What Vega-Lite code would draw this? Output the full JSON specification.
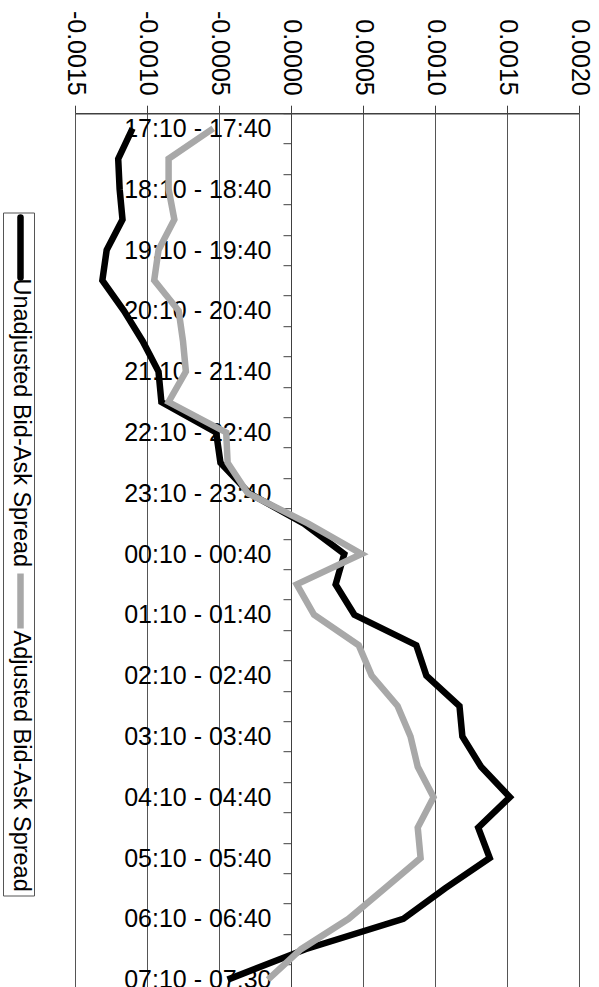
{
  "$schema": "https://vega.github.io/schema/vega-lite/v6.json",
  "padding": {"left": 2, "top": 10, "right": 8, "bottom": 0},
  "background": "white",
  "bounds": "flush",
  "center": true,
  "spacing": 41,
  "config": {"font": "Liberation Sans", "view": {"stroke": null}},
  "datasets": {
    "spread": [
      {"idx": 0, "period": "17:10 - 17:40", "series": "Unadjusted Bid-Ask Spread", "value": -0.00110},
      {"idx": 1, "period": "17:40 - 18:10", "series": "Unadjusted Bid-Ask Spread", "value": -0.00120},
      {"idx": 2, "period": "18:10 - 18:40", "series": "Unadjusted Bid-Ask Spread", "value": -0.00119},
      {"idx": 3, "period": "18:40 - 19:10", "series": "Unadjusted Bid-Ask Spread", "value": -0.00117},
      {"idx": 4, "period": "19:10 - 19:40", "series": "Unadjusted Bid-Ask Spread", "value": -0.00128},
      {"idx": 5, "period": "19:40 - 20:10", "series": "Unadjusted Bid-Ask Spread", "value": -0.00131},
      {"idx": 6, "period": "20:10 - 20:40", "series": "Unadjusted Bid-Ask Spread", "value": -0.00116},
      {"idx": 7, "period": "20:40 - 21:10", "series": "Unadjusted Bid-Ask Spread", "value": -0.00103},
      {"idx": 8, "period": "21:10 - 21:40", "series": "Unadjusted Bid-Ask Spread", "value": -0.00092},
      {"idx": 9, "period": "21:40 - 22:10", "series": "Unadjusted Bid-Ask Spread", "value": -0.00090},
      {"idx": 10, "period": "22:10 - 22:40", "series": "Unadjusted Bid-Ask Spread", "value": -0.00052},
      {"idx": 11, "period": "22:40 - 23:10", "series": "Unadjusted Bid-Ask Spread", "value": -0.00049},
      {"idx": 12, "period": "23:10 - 23:40", "series": "Unadjusted Bid-Ask Spread", "value": -0.00029},
      {"idx": 13, "period": "23:40 - 00:10", "series": "Unadjusted Bid-Ask Spread", "value": 0.00009},
      {"idx": 14, "period": "00:10 - 00:40", "series": "Unadjusted Bid-Ask Spread", "value": 0.00037},
      {"idx": 15, "period": "00:40 - 01:10", "series": "Unadjusted Bid-Ask Spread", "value": 0.00031},
      {"idx": 16, "period": "01:10 - 01:40", "series": "Unadjusted Bid-Ask Spread", "value": 0.00044},
      {"idx": 17, "period": "01:40 - 02:10", "series": "Unadjusted Bid-Ask Spread", "value": 0.00087},
      {"idx": 18, "period": "02:10 - 02:40", "series": "Unadjusted Bid-Ask Spread", "value": 0.00094},
      {"idx": 19, "period": "02:40 - 03:10", "series": "Unadjusted Bid-Ask Spread", "value": 0.00117},
      {"idx": 20, "period": "03:10 - 03:40", "series": "Unadjusted Bid-Ask Spread", "value": 0.00119},
      {"idx": 21, "period": "03:40 - 04:10", "series": "Unadjusted Bid-Ask Spread", "value": 0.00132},
      {"idx": 22, "period": "04:10 - 04:40", "series": "Unadjusted Bid-Ask Spread", "value": 0.00152},
      {"idx": 23, "period": "04:40 - 05:10", "series": "Unadjusted Bid-Ask Spread", "value": 0.00130},
      {"idx": 24, "period": "05:10 - 05:40", "series": "Unadjusted Bid-Ask Spread", "value": 0.00138},
      {"idx": 25, "period": "05:40 - 06:10", "series": "Unadjusted Bid-Ask Spread", "value": 0.00107},
      {"idx": 26, "period": "06:10 - 06:40", "series": "Unadjusted Bid-Ask Spread", "value": 0.00078},
      {"idx": 27, "period": "06:40 - 07:10", "series": "Unadjusted Bid-Ask Spread", "value": 0.00010},
      {"idx": 28, "period": "07:10 - 07:30", "series": "Unadjusted Bid-Ask Spread", "value": -0.00044},
      {"idx": 0, "period": "17:10 - 17:40", "series": "Adjusted Bid-Ask Spread", "value": -0.00054},
      {"idx": 1, "period": "17:40 - 18:10", "series": "Adjusted Bid-Ask Spread", "value": -0.00085},
      {"idx": 2, "period": "18:10 - 18:40", "series": "Adjusted Bid-Ask Spread", "value": -0.00085},
      {"idx": 3, "period": "18:40 - 19:10", "series": "Adjusted Bid-Ask Spread", "value": -0.00081},
      {"idx": 4, "period": "19:10 - 19:40", "series": "Adjusted Bid-Ask Spread", "value": -0.00092},
      {"idx": 5, "period": "19:40 - 20:10", "series": "Adjusted Bid-Ask Spread", "value": -0.00095},
      {"idx": 6, "period": "20:10 - 20:40", "series": "Adjusted Bid-Ask Spread", "value": -0.00078},
      {"idx": 7, "period": "20:40 - 21:10", "series": "Adjusted Bid-Ask Spread", "value": -0.00075},
      {"idx": 8, "period": "21:10 - 21:40", "series": "Adjusted Bid-Ask Spread", "value": -0.00073},
      {"idx": 9, "period": "21:40 - 22:10", "series": "Adjusted Bid-Ask Spread", "value": -0.00085},
      {"idx": 10, "period": "22:10 - 22:40", "series": "Adjusted Bid-Ask Spread", "value": -0.00045},
      {"idx": 11, "period": "22:40 - 23:10", "series": "Adjusted Bid-Ask Spread", "value": -0.00044},
      {"idx": 12, "period": "23:10 - 23:40", "series": "Adjusted Bid-Ask Spread", "value": -0.00030},
      {"idx": 13, "period": "23:40 - 00:10", "series": "Adjusted Bid-Ask Spread", "value": 0.00012},
      {"idx": 14, "period": "00:10 - 00:40", "series": "Adjusted Bid-Ask Spread", "value": 0.00049},
      {"idx": 15, "period": "00:40 - 01:10", "series": "Adjusted Bid-Ask Spread", "value": 0.00004},
      {"idx": 16, "period": "01:10 - 01:40", "series": "Adjusted Bid-Ask Spread", "value": 0.00016},
      {"idx": 17, "period": "01:40 - 02:10", "series": "Adjusted Bid-Ask Spread", "value": 0.00047},
      {"idx": 18, "period": "02:10 - 02:40", "series": "Adjusted Bid-Ask Spread", "value": 0.00056},
      {"idx": 19, "period": "02:40 - 03:10", "series": "Adjusted Bid-Ask Spread", "value": 0.00074},
      {"idx": 20, "period": "03:10 - 03:40", "series": "Adjusted Bid-Ask Spread", "value": 0.00083},
      {"idx": 21, "period": "03:40 - 04:10", "series": "Adjusted Bid-Ask Spread", "value": 0.00088},
      {"idx": 22, "period": "04:10 - 04:40", "series": "Adjusted Bid-Ask Spread", "value": 0.00099},
      {"idx": 23, "period": "04:40 - 05:10", "series": "Adjusted Bid-Ask Spread", "value": 0.00088},
      {"idx": 24, "period": "05:10 - 05:40", "series": "Adjusted Bid-Ask Spread", "value": 0.00090},
      {"idx": 25, "period": "05:40 - 06:10", "series": "Adjusted Bid-Ask Spread", "value": 0.00065},
      {"idx": 26, "period": "06:10 - 06:40", "series": "Adjusted Bid-Ask Spread", "value": 0.00040},
      {"idx": 27, "period": "06:40 - 07:10", "series": "Adjusted Bid-Ask Spread", "value": 0.00007},
      {"idx": 28, "period": "07:10 - 07:30", "series": "Adjusted Bid-Ask Spread", "value": -0.00016}
    ],
    "legend": [
      {"series": "Unadjusted Bid-Ask Spread"},
      {"series": "Adjusted Bid-Ask Spread"}
    ]
  },
  "hconcat": [
    {
      "width": 31,
      "height": 683,
      "view": {"stroke": "#555555", "strokeWidth": 1},
      "data": {"name": "legend"},
      "encoding": {
        "y": {
          "field": "series",
          "type": "nominal",
          "sort": null,
          "scale": {"domain": ["Unadjusted Bid-Ask Spread", "Adjusted Bid-Ask Spread"], "paddingInner": 0, "paddingOuter": 0},
          "axis": null
        }
      },
      "layer": [
        {
          "transform": [{"filter": "datum.series == 'Unadjusted Bid-Ask Spread'"}],
          "mark": {"type": "point", "shape": "M0,-1L0,1", "size": 3600, "filled": false, "stroke": "black", "strokeWidth": 6.5, "strokeCap": "round", "opacity": 1, "yOffset": -135.75, "xOffset": 2}
        },
        {
          "transform": [{"filter": "datum.series == 'Unadjusted Bid-Ask Spread'"}],
          "mark": {"type": "text", "angle": 90, "align": "left", "baseline": "middle", "fontSize": 23.5, "color": "black", "yOffset": -104.75, "xOffset": 2},
          "encoding": {"text": {"field": "series"}}
        },
        {
          "transform": [{"filter": "datum.series == 'Adjusted Bid-Ask Spread'"}],
          "mark": {"type": "point", "shape": "M0,-1L0,1", "size": 3025, "filled": false, "stroke": "#a8a8a8", "strokeWidth": 6.5, "strokeCap": "butt", "opacity": 1, "yOffset": -123.75, "xOffset": 2}
        },
        {
          "transform": [{"filter": "datum.series == 'Adjusted Bid-Ask Spread'"}],
          "mark": {"type": "text", "angle": 90, "align": "left", "baseline": "middle", "fontSize": 23.5, "color": "black", "yOffset": -94.25, "xOffset": 2},
          "encoding": {"text": {"field": "series"}}
        }
      ]
    },
    {
      "width": 504,
      "height": {"step": 30.4},
      "data": {"name": "spread"},
      "encoding": {
        "y": {
          "field": "period",
          "type": "nominal",
          "sort": null,
          "scale": {"paddingInner": 0, "paddingOuter": 0},
          "axis": {
            "orient": "left",
            "offset": -216,
            "labelExpr": "substring(datum.value, 2, 5) == ':10' ? datum.value : ''",
            "labelFontSize": 25,
            "labelPadding": 12,
            "labelColor": "black",
            "labelFont": "Liberation Sans",
            "labelOverlap": false,
            "labelLimit": 400,
            "tickSize": 8,
            "tickBand": "extent",
            "tickColor": "#404040",
            "domainColor": "#404040",
            "domainWidth": 1,
            "grid": false,
            "title": null
          }
        },
        "x": {
          "field": "value",
          "type": "quantitative",
          "scale": {"domain": [-0.0015, 0.002], "nice": false, "zero": false},
          "axis": {
            "orient": "top",
            "values": [-0.0015, -0.001, -0.0005, 0, 0.0005, 0.001, 0.0015, 0.002],
            "labelExpr": "replace(format(datum.value, '.4f'), '\u2212', '-')",
            "labelAngle": 90,
            "labelAlign": "right",
            "labelBaseline": "middle",
            "labelFontSize": 25,
            "labelPadding": 10,
            "labelColor": "black",
            "labelFont": "Liberation Sans",
            "labelFlush": false,
            "labelOverlap": false,
            "tickSize": 8,
            "tickColor": "#404040",
            "domainColor": "#404040",
            "domainWidth": 1.5,
            "grid": true,
            "gridColor": "#555555",
            "gridWidth": 1,
            "title": null
          }
        },
        "order": {"field": "idx", "type": "quantitative"}
      },
      "layer": [
        {
          "transform": [{"filter": "datum.series == 'Unadjusted Bid-Ask Spread'"}],
          "mark": {"type": "line", "color": "black", "strokeWidth": 6.5}
        },
        {
          "transform": [{"filter": "datum.series == 'Adjusted Bid-Ask Spread'"}],
          "mark": {"type": "line", "color": "#a8a8a8", "strokeWidth": 6.5}
        }
      ]
    }
  ]
}
